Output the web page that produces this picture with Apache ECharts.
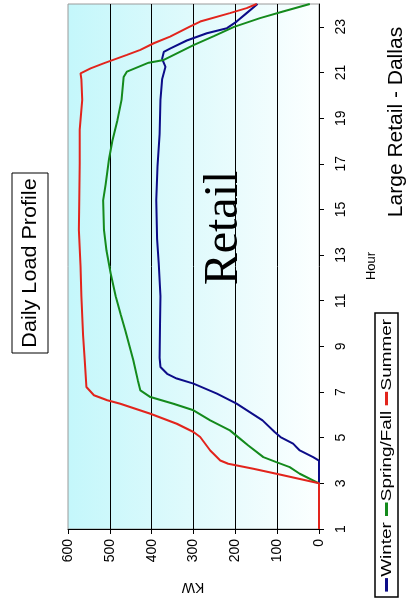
<!DOCTYPE html>
<html>
<head>
<meta charset="utf-8">
<title>Daily Load Profile</title>
<script src="https://cdn.jsdelivr.net/npm/echarts@6/dist/echarts.min.js"></script>
<style>
    html, body { margin: 0; padding: 0; background: #fff; }
    #main { width: 406px; height: 600px; }
</style>
</head>
<body>
<div id="main"></div>
<script>
// hour ticks shown on the (rotated) hour axis
let hourTicks = [1, 3, 5, 7, 9, 11, 13, 15, 17, 19, 21, 23];
let kwTicks = [0, 100, 200, 300, 400, 500, 600];

// Winter
let winterHours = [1, 2, 3, 4, 4.15, 4.44, 4.74, 5.03, 5.25, 5.76, 6.49, 6.93, 7.37, 7.59, 7.8, 8.1, 8.5, 10, 11.2, 12.6,
    13.7, 15.4, 16.9, 18.3, 19.8, 20.7, 21.25, 21.6, 21.9, 22.06, 22.4, 22.72, 22.94, 23.23, 23.6, 24];
let winterKW = [0, 0, 0, 0, 14, 46, 62, 92, 106, 135, 197, 244, 300, 340, 363, 379, 381, 380, 379, 383,
    387, 389, 386, 381, 379, 375, 367, 375, 371, 355, 316, 268, 220, 197, 173, 147];

// Spring/Fall
let springHours = [1, 2, 3, 3.42, 3.71, 3.93, 4.15, 4.66, 4.96, 5.32, 5.76, 6.2, 6.49, 6.78, 7.07, 7.51, 8.4, 9.7, 10.4, 11.2,
    12.2, 13.2, 14.1, 15.4, 16.1, 17.2, 18.0, 18.9, 19.8, 20.8, 21.04, 21.43, 21.55, 22.2, 22.6, 23.0, 23.38, 23.67, 24];
let springKW = [0, 0, 0, 46, 70, 102, 133, 169, 189, 213, 260, 300, 348, 403, 427, 433, 444, 463, 474, 486,
    498, 508, 514, 516, 510, 502, 494, 482, 472, 467, 459, 407, 371, 300, 250, 203, 141, 86, 22];

// Summer
let summerHours = [1, 2, 3, 3.42, 3.64, 3.86, 4.0, 4.44, 5.03, 5.25, 5.61, 6.05, 6.49, 6.64, 6.86, 7.22, 8.4, 9.5, 11.2, 12.5,
    14.1, 15.5, 17, 18.5, 19.8, 20.7, 20.96, 21.18, 21.4, 21.77, 21.99, 22.28, 22.57, 23.0, 23.23, 23.6, 23.82, 24];
let summerKW = [0, 0, 0, 102, 157, 217, 236, 260, 284, 300, 340, 403, 475, 506, 538, 556, 560, 564, 568, 570,
    574, 573, 572, 572, 566, 568, 570, 546, 515, 459, 427, 395, 356, 310, 284, 213, 173, 149];

let seriesNames = ['Winter', 'Spring/Fall', 'Summer'];
let seriesColors = ['#0c0c88', '#148a1c', '#e2241c'];

let font = 'Liberation Sans, Arial, sans-serif';

function pairs(kw, hours) {
    return kw.map((v, i) => [v, hours[i]]);
}

let chart = echarts.init(document.getElementById('main'));

let option = {
    animation: false,
    grid: {
        left: 68,
        right: 87,
        top: 4,
        bottom: 71,
        show: true,
        borderColor: '#9a9a9a',
        borderWidth: 1,
        backgroundColor: new echarts.graphic.LinearGradient(0, 0, 1, 0, [
            {offset: 0, color: '#c4f7fb'},
            {offset: 0.5, color: '#e0fafc'},
            {offset: 1, color: '#fcffff'}
        ])
    },
    xAxis: {
        type: 'value',
        min: 0,
        max: 600,
        inverse: true,
        axisLine: {show: true, onZero: false, lineStyle: {color: '#000', width: 1}},
        axisTick: {show: true, length: 5, customValues: kwTicks, lineStyle: {color: '#000'}},
        axisLabel: {rotate: 90, fontSize: 14, color: '#000', fontFamily: font, margin: 10, customValues: kwTicks},
        splitLine: {show: true, showMinLine: false, showMaxLine: false, lineStyle: {color: '#000', width: 1}}
    },
    yAxis: {
        type: 'value',
        position: 'right',
        min: 1,
        max: 24,
        axisLine: {show: true, onZero: false, lineStyle: {color: '#000', width: 1}},
        axisTick: {show: true, length: 5, customValues: hourTicks, lineStyle: {color: '#000'}},
        axisLabel: {rotate: 90, fontSize: 14, color: '#000', fontFamily: font, margin: 15, customValues: hourTicks},
        splitLine: {show: false}
    },
    series: [
        {name: seriesNames[0], type: 'line', showSymbol: false, data: pairs(winterKW, winterHours),
            lineStyle: {color: seriesColors[0], width: 2}, itemStyle: {color: seriesColors[0]}},
        {name: seriesNames[1], type: 'line', showSymbol: false, data: pairs(springKW, springHours),
            lineStyle: {color: seriesColors[1], width: 2}, itemStyle: {color: seriesColors[1]}},
        {name: seriesNames[2], type: 'line', showSymbol: false, data: pairs(summerKW, summerHours),
            lineStyle: {color: seriesColors[2], width: 2}, itemStyle: {color: seriesColors[2]}}
    ],
    graphic: [
        // title box, rotated
        {
            type: 'group', x: 12, y: 353, rotation: Math.PI / 2,
            children: [
                {type: 'rect', shape: {x: 0, y: 0, width: 180, height: 36},
                    style: {fill: '#fff', stroke: '#000', lineWidth: 1}},
                {type: 'text', x: 90, y: 18, scaleX: 1.08,
                    style: {text: 'Daily Load Profile', font: '20px ' + font, fill: '#000', align: 'center', verticalAlign: 'middle'}}
            ]
        },
        {type: 'text', x: 396, y: 122, rotation: Math.PI / 2,
            style: {text: 'Large Retail - Dallas', font: '21px ' + font, fill: '#000', align: 'center', verticalAlign: 'middle'}},
        {type: 'text', x: 371, y: 266, rotation: Math.PI / 2,
            style: {text: 'Hour', font: '13px ' + font, fill: '#000', align: 'center', verticalAlign: 'middle'}},
        {type: 'text', x: 193, y: 587, rotation: Math.PI,
            style: {text: 'KW', font: '14px ' + font, fill: '#000', align: 'center', verticalAlign: 'middle'}},
        {type: 'text', x: 224, y: 228, rotation: Math.PI / 2, z: 10,
            style: {text: 'Retail', font: '48px Liberation Serif, Times New Roman, serif', fill: '#000', align: 'center', verticalAlign: 'middle'}},
        // legend, rotated
        {
            type: 'group', x: 375, y: 597, rotation: Math.PI / 2,
            children: [
                {type: 'rect', shape: {x: 0, y: 0, width: 284, height: 23},
                    style: {fill: '#fff', stroke: '#000', lineWidth: 1.5}},
                {type: 'group', scaleX: 1.35, children: [
                    {type: 'line', shape: {x1: 4, y1: 11.5, x2: 14, y2: 11.5}, style: {stroke: seriesColors[0], lineWidth: 3}},
                    {type: 'text', x: 15, y: 12, style: {text: seriesNames[0], font: '14px ' + font, fill: '#000', verticalAlign: 'middle'}},
                    {type: 'line', shape: {x1: 60, y1: 11.5, x2: 70, y2: 11.5}, style: {stroke: seriesColors[1], lineWidth: 3}},
                    {type: 'text', x: 71, y: 12, style: {text: seriesNames[1], font: '14px ' + font, fill: '#000', verticalAlign: 'middle'}},
                    {type: 'line', shape: {x1: 142, y1: 11.5, x2: 152, y2: 11.5}, style: {stroke: seriesColors[2], lineWidth: 3}},
                    {type: 'text', x: 153, y: 12, style: {text: seriesNames[2], font: '14px ' + font, fill: '#000', verticalAlign: 'middle'}}
                ]}
            ]
        }
    ]
};

chart.setOption(option);
</script>
</body>
</html>
